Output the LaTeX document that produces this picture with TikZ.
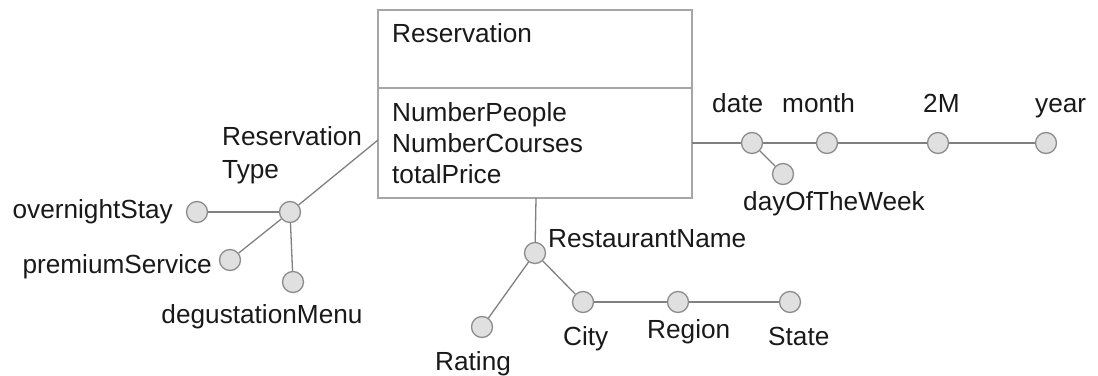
\documentclass[tikz,border=0pt]{standalone}
\usepackage{fontspec}
\setmainfont{Liberation Sans}
\begin{document}
\begin{tikzpicture}[x=1pt,y=-1pt,
  lvl/.style={circle,draw=black!45,fill=black!12,line width=1.3pt,minimum size=21pt,inner sep=0pt},
  link/.style={draw=black!50,line width=1.3pt},
  lbl/.style={inner sep=0pt,font=\fontsize{26.2}{30}\selectfont,text=black!90},
  factbox/.style={draw=black!35,line width=1.6pt}]
\useasboundingbox (0,0) rectangle (1098,375);
% fact box
\draw[factbox] (378,10) rectangle (692,198);
\draw[factbox] (378,88) -- (692,88);
\coordinate (bl) at (378,140);
\coordinate (bb) at (536,198);
\coordinate (br) at (692,143);
\node[lbl,anchor=base west] (fact) at (392,42) {Reservation};
\node[lbl,anchor=base west] (m1) at (392,121) {NumberPeople};
\node[lbl,anchor=base west] (m2) at (392,152) {NumberCourses};
\node[lbl,anchor=base west] (m3) at (392,183) {totalPrice};
% reservation type hierarchy
\node[lvl] (rt) at (290,212) {};
\node[lvl] (ov) at (197,212) {};
\node[lvl] (ps) at (230,260) {};
\node[lvl] (dm) at (293,282) {};
\draw[link] (bl) -- (rt);
\draw[link] (rt) -- (ov);
\draw[link] (rt) -- (ps);
\draw[link] (rt) -- (dm);
\node[lbl,anchor=base west] (trt1) at (222,145) {Reservation};
\node[lbl,anchor=base west] (trt2) at (222,178) {Type};
\node[lbl,anchor=base east] (tov) at (173,218) {overnightStay};
\node[lbl,anchor=base east] (tps) at (212,273) {premiumService};
\node[lbl,anchor=base] (tdm) at (262,323) {degustationMenu};
% restaurant hierarchy
\node[lvl] (rn) at (535,253) {};
\node[lvl] (ra) at (482,327) {};
\node[lvl] (ci) at (583,302) {};
\node[lvl] (re) at (678,302) {};
\node[lvl] (st) at (790,302) {};
\draw[link] (bb) -- (rn);
\draw[link] (rn) -- (ra);
\draw[link] (rn) -- (ci);
\draw[link] (ci) -- (re);
\draw[link] (re) -- (st);
\node[lbl,anchor=base west] (trn) at (548,247) {RestaurantName};
\node[lbl,anchor=base west] (tra) at (435,370) {Rating};
\node[lbl,anchor=base west] (tci) at (563,345) {City};
\node[lbl,anchor=base west] (tre) at (647,338) {Region};
\node[lbl,anchor=base west] (tst) at (768,345) {State};
% date hierarchy
\node[lvl] (da) at (752,143) {};
\node[lvl] (mo) at (827,143) {};
\node[lvl] (tm) at (938,143) {};
\node[lvl] (ye) at (1046,143) {};
\node[lvl] (dw) at (783,174) {};
\draw[link] (br) -- (da);
\draw[link] (da) -- (mo);
\draw[link] (mo) -- (tm);
\draw[link] (tm) -- (ye);
\draw[link] (da) -- (dw);
\node[lbl,anchor=base west] (tda) at (712,112) {date};
\node[lbl,anchor=base west] (tmo) at (782,112) {month};
\node[lbl,anchor=base west] (ttm) at (923,112) {2M};
\node[lbl,anchor=base west] (tye) at (1035,112) {year};
\node[lbl,anchor=base west] (tdw) at (743,210) {dayOfTheWeek};
\end{tikzpicture}
\end{document}
